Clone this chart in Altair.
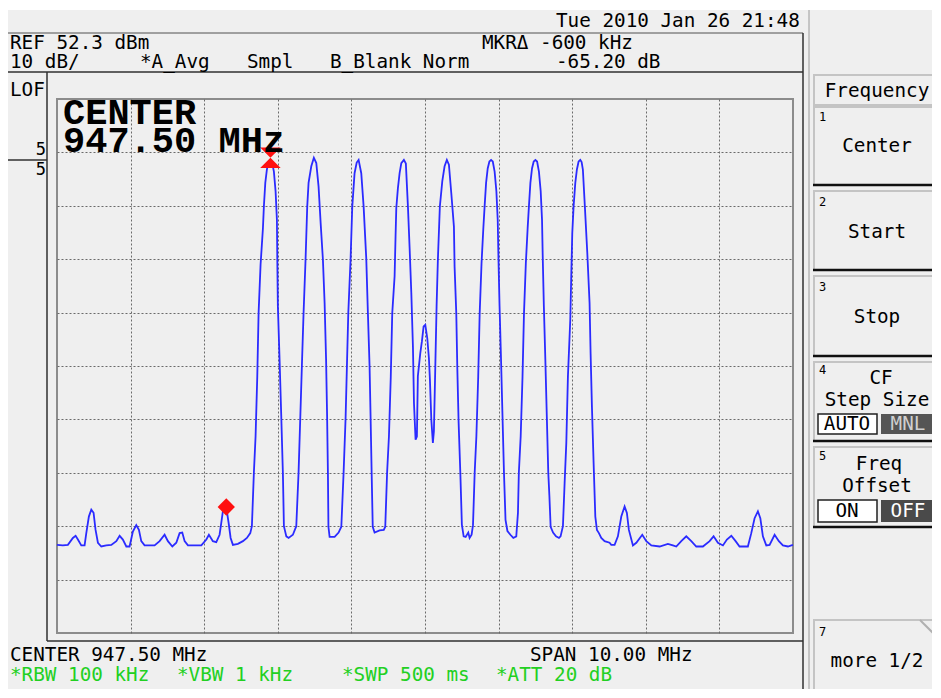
import altair as alt
import pandas as pd

# ---------------- trace data: (frequency MHz, level dBm) ----------------
floor_left = [
    (942.500, -31.2), (942.580, -31.3), (942.648, -31.2), (942.716, -29.9), (942.753, -29.5),
    (942.784, -30.2), (942.830, -31.3), (942.875, -31.3), (942.898, -29.0), (942.933, -25.9),
    (942.966, -24.6), (942.997, -25.2), (943.024, -28.4), (943.056, -30.8), (943.102, -31.5),
    (943.170, -31.3), (943.238, -31.2), (943.306, -30.5), (943.351, -29.5), (943.395, -30.2),
    (943.442, -31.5), (943.486, -31.5), (943.531, -28.7), (943.577, -27.5), (943.613, -28.4),
    (943.645, -30.5), (943.690, -31.3), (943.758, -31.3), (943.826, -31.3), (943.894, -30.5),
    (943.962, -29.3), (944.007, -30.5), (944.067, -31.5), (944.121, -30.8), (944.166, -29.0),
    (944.202, -28.9), (944.234, -30.5), (944.279, -31.3), (944.370, -31.3), (944.461, -31.3),
    (944.529, -30.2), (944.564, -29.3), (944.618, -30.5), (944.664, -30.7), (944.709, -29.3),
    (944.732, -27.1), (944.754, -24.9), (944.787, -24.0), (944.808, -24.9), (944.832, -27.1),
    (944.859, -29.9), (944.890, -31.2), (944.958, -31.0), (945.026, -30.5), (945.080, -29.9),
    (945.126, -29.0),
]
peaks_1_3 = [
    (945.148, -27.7), (945.175, -17.7), (945.198, -10.9), (945.221, 0.3), (945.239, 12.2),
    (945.266, 21.3), (945.298, 28.1), (945.311, 32.2), (945.330, 36.6), (945.352, 39.1),
    (945.375, 40.6), (945.398, 40.9), (945.420, 40.6), (945.447, 38.7), (945.470, 35.0),
    (945.488, 29.7), (945.493, 22.5), (945.501, 13.5), (945.524, 3.5), (945.547, -7.1),
    (945.569, -17.7), (945.583, -27.7),
    (945.616, -29.6), (945.647, -29.9), (945.705, -29.3), (945.751, -27.7),
    (945.782, -17.7), (945.806, -7.1), (945.827, 2.2), (945.850, 12.2), (945.877, 22.2),
    (945.900, 32.2), (945.918, 36.6), (945.955, 39.7), (945.990, 41.3), (946.023, 40.3),
    (946.054, 35.9), (946.082, 29.1), (946.113, 22.2), (946.136, 14.1), (946.156, 3.5),
    (946.170, -7.2), (946.181, -17.7), (946.188, -27.8),
    (946.204, -29.7), (946.272, -29.7), (946.326, -28.9), (946.363, -27.8),
    (946.394, -17.7), (946.421, -7.5), (946.439, 2.2), (946.458, 12.3), (946.489, 22.4),
    (946.512, 32.2), (946.543, 38.4), (946.572, 40.4), (946.598, 40.9), (946.634, 38.4),
    (946.666, 32.2), (946.702, 22.4), (946.724, 12.3), (946.747, 2.2), (946.761, -7.5),
    (946.775, -17.7), (946.790, -27.8),
    (946.815, -28.9), (946.883, -28.5), (946.940, -28.4),
]
peaks_4_5 = [
    (946.960, -27.8), (946.985, -17.7), (947.010, -10.9), (947.035, 0.3), (947.055, 12.2),
    (947.087, 19.1), (947.100, 26.6), (947.110, 31.9), (947.132, 35.6), (947.155, 38.4),
    (947.178, 40.3), (947.213, 40.9), (947.240, 40.2), (947.268, 32.2), (947.291, 24.4),
    (947.314, 16.0), (947.336, 6.0), (947.350, -4.6), (947.372, -11.5), (947.390, -10.9),
    (947.403, 0.4), (947.436, 4.7), (947.458, 6.9), (947.481, 9.7), (947.504, 10.0),
    (947.531, 7.5), (947.553, 3.8), (947.567, -0.3), (947.586, -7.8), (947.607, -12.1),
    (947.621, -9.9), (947.640, 2.2), (947.658, 13.8), (947.675, 22.2), (947.702, 32.2),
    (947.735, 36.9), (947.766, 39.7), (947.797, 40.9), (947.825, 40.0), (947.857, 34.7),
    (947.893, 28.4), (947.902, 20.9), (947.925, 12.2), (947.939, 1.9), (947.957, -8.4),
    (947.980, -17.7), (948.001, -27.4), (948.025, -29.6),
    (948.052, -29.7), (948.088, -28.9), (948.106, -29.9), (948.133, -29.3),
]
peaks_6_8 = [
    (948.152, -27.5), (948.175, -17.7), (948.198, -10.9), (948.223, 0.3), (948.243, 12.2),
    (948.268, 21.5), (948.293, 28.2), (948.310, 32.2), (948.330, 36.6), (948.352, 39.3),
    (948.375, 40.6), (948.398, 40.9), (948.421, 40.6), (948.446, 38.7), (948.470, 35.0),
    (948.488, 29.7), (948.498, 22.5), (948.513, 13.5), (948.533, 3.5), (948.553, -7.1),
    (948.573, -17.7), (948.594, -26.5),
    (948.620, -28.6), (948.660, -29.3), (948.700, -29.9), (948.740, -29.6), (948.763, -25.2),
    (948.775, -17.7), (948.800, -10.9), (948.825, 0.3), (948.845, 12.2), (948.870, 21.5),
    (948.895, 28.2), (948.912, 32.2), (948.932, 36.6), (948.954, 39.3), (948.977, 40.6),
    (949.000, 40.9), (949.023, 40.6), (949.048, 38.7), (949.072, 35.0), (949.090, 29.7),
    (949.100, 22.5), (949.115, 13.5), (949.135, 3.5), (949.155, -7.1), (949.175, -17.7),
    (949.190, -22.0), (949.207, -27.8),
    (949.240, -28.9), (949.280, -29.6), (949.320, -29.9), (949.342, -29.6),
    (949.374, -27.7), (949.397, -19.6), (949.420, -12.1), (949.442, 0.4), (949.474, 11.0),
    (949.488, 19.7), (949.501, 27.2), (949.519, 32.2), (949.542, 36.6), (949.564, 39.1),
    (949.587, 40.6), (949.610, 40.9), (949.628, 40.5), (949.645, 39.1), (949.672, 32.2),
    (949.705, 23.5), (949.736, 14.1), (949.750, 4.7), (949.768, -5.3), (949.791, -15.9),
    (949.814, -25.9), (949.836, -28.4), (949.863, -29.0), (949.895, -29.9), (949.940, -30.5),
    (950.008, -30.8),
]
floor_right = [
    (950.031, -31.2), (950.076, -31.2), (950.121, -29.6), (950.167, -25.9), (950.212, -24.0),
    (950.243, -25.2), (950.270, -28.4), (950.325, -31.3), (950.371, -30.8), (950.452, -29.3),
    (950.507, -30.5), (950.575, -31.3), (950.688, -31.5), (950.800, -31.0), (950.868, -31.3),
    (950.914, -31.5), (950.982, -30.5), (951.050, -29.6), (951.118, -30.5), (951.186, -31.5),
    (951.276, -31.5), (951.367, -30.5), (951.421, -29.6), (951.480, -30.8), (951.548, -31.3),
    (951.602, -30.2), (951.662, -29.5), (951.720, -30.5), (951.774, -31.5), (951.887, -31.5),
    (951.933, -29.0), (951.978, -26.2), (952.023, -24.9), (952.056, -26.2), (952.091, -29.6),
    (952.137, -31.3), (952.182, -31.2), (952.250, -29.3), (952.308, -30.5), (952.363, -31.3),
    (952.431, -31.5), (952.499, -31.2),
]
ref_marker = [(945.40, 41.3)]
delta_marker = [(944.80, -24.1)]

# screen settings
start_mhz, stop_mhz = 942.5, 952.5
ref_dbm, db_per_div = 52.3, 10
x_grid = [943.5, 944.5, 945.5, 946.5, 947.5, 948.5, 949.5, 950.5, 951.5]
y_grid = [42.3, 32.3, 22.3, 12.3, 2.3, -7.7, -17.7, -27.7, -37.7]

trace = pd.DataFrame(floor_left + peaks_1_3 + peaks_4_5 + peaks_6_8 + floor_right,
                     columns=["f", "db"])
trace["i"] = range(len(trace))
mk_ref = pd.DataFrame(ref_marker, columns=["f", "db"])
mk_del = pd.DataFrame(delta_marker, columns=["f", "db"])

xs = alt.Scale(domain=[start_mhz, stop_mhz], nice=False, zero=False)
ys = alt.Scale(domain=[ref_dbm - 10 * db_per_div, ref_dbm], nice=False, zero=False)
gridstyle = dict(grid=True, labels=False, ticks=False, domain=False, title=None,
                 gridColor="#6a6a6a", gridDash=[2, 2], gridWidth=1)

line = alt.Chart(trace).mark_line(color="#2b2bff", strokeWidth=1.8).encode(
    x=alt.X("f:Q", scale=xs, axis=alt.Axis(values=x_grid, **gridstyle)),
    y=alt.Y("db:Q", scale=ys, axis=alt.Axis(values=y_grid, **gridstyle)),
    order="i:Q",
)
m1 = alt.Chart(mk_ref).mark_point(shape="M-1,-1L1,-1L-1,1L1,1Z", filled=True, size=420,
                                  color="#ff1010", opacity=1).encode(
    x=alt.X("f:Q", scale=xs), y=alt.Y("db:Q", scale=ys))
m2 = alt.Chart(mk_del).mark_point(shape="M0,-1L1,0L0,1L-1,0Z", filled=True, size=300,
                                  color="#ff1010", opacity=1).encode(
    x=alt.X("f:Q", scale=xs), y=alt.Y("db:Q", scale=ys))

# ---------------- screen chrome (page pixel positions) ----------------
OX, OY = 57, 99
MONO = "DejaVu Sans Mono"
dummy = pd.DataFrame({"d": [0]})


def txt(s, x, y, size=19.3, color="#000000", font=MONO, align="left", weight="normal",
        baseline="middle"):
    return alt.Chart(dummy).mark_text(
        text=s, align=align, baseline=baseline, fontSize=size, font=font,
        color=color, fontWeight=weight).encode(x=alt.value(x - OX), y=alt.value(y - OY))


def rule(x1, y1, x2, y2, color="#303030", w=1):
    return alt.Chart(dummy).mark_rule(color=color, strokeWidth=w).encode(
        x=alt.value(x1 - OX), y=alt.value(y1 - OY), x2=alt.value(x2 - OX), y2=alt.value(y2 - OY))


def box(x1, y1, x2, y2, fill, stroke="", w=1):
    kw = dict(fill=fill)
    if stroke:
        kw.update(stroke=stroke, strokeWidth=w)
    return alt.Chart(dummy).mark_rect(**kw).encode(
        x=alt.value(x1 - OX), y=alt.value(y1 - OY), x2=alt.value(x2 - OX), y2=alt.value(y2 - OY))


chrome = [
    box(0, 0, 945, 10, "#ffffff"),
    rule(8, 33, 803, 33, "#505050"),
    rule(8, 72, 803, 72, "#303030", 1.5),
    rule(47, 72, 47, 641, "#303030", 1.5),
    rule(47, 641, 803, 641, "#303030", 1.5),
    rule(803, 33, 803, 698, "#303030", 1.5),
    rule(809, 10, 809, 698, "#9a9a9a", 1),
    rule(8, 160, 47, 160, "#303030", 1.5),
]
texts = [
    txt("Tue 2010 Jan 26 21:48", 556, 21),
    txt("REF 52.3 dBm", 10, 43),
    txt("10 dB/", 10, 62),
    txt("*A_Avg", 140, 62),
    txt("Smpl", 247, 62),
    txt("B_Blank Norm", 330, 62),
    txt("MKR\u0394 -600 kHz", 482, 43),
    txt("-65.20 dB", 556, 62),
    txt("LOF", 10, 90),
    txt("5", 46, 150, size=17, align="right"),
    txt("5", 46, 170, size=17, align="right"),
    txt("CENTER", 63, 124, size=37, font="Liberation Mono", weight="bold",
        baseline="alphabetic"),
    txt("947.50 MHz", 63, 152, size=37, font="Liberation Mono", weight="bold",
        baseline="alphabetic"),
    txt("CENTER 947.50 MHz", 10, 655),
    txt("SPAN 10.00 MHz", 530, 655),
    txt("*RBW 100 kHz", 10, 675, color="#22d022"),
    txt("*VBW 1 kHz", 177, 675, color="#22d022"),
    txt("*SWP 500 ms", 342, 675, color="#22d022"),
    txt("*ATT 20 dB", 496, 675, color="#22d022"),
]

# soft keys
KX1, KX2 = 814, 941
KC = 877
keys = [box(KX1, 75, KX2 + 4, 105, "#efefef", "#c4c4c4", 2),
        txt("Frequency", KC, 91, align="center")]
key_boxes = [(107, 185), (191, 270), (276, 356), (362, 441), (447, 527), (620, 700)]
for (t, b) in key_boxes:
    keys.append(box(KX1, t, KX2 + 4, b, "#efefef", "#c4c4c4", 2))
    if b < 698:
        keys.append(rule(KX1 - 1, b, KX2 + 4, b, "#101010", 2.5))
keys += [
    txt("1", 819, 117, size=12), txt("Center", KC, 146, align="center"),
    txt("2", 819, 202, size=12), txt("Start", KC, 232, align="center"),
    txt("3", 819, 287, size=12), txt("Stop", KC, 317, align="center"),
    txt("4", 819, 370, size=12), txt("CF", KC + 4, 378, align="center"),
    txt("Step Size", KC, 400, align="center"),
    box(818, 414, 877, 434, "#ffffff", "#202020", 1.5),
    box(881, 414, 945, 434, "#555555"),
    txt("AUTO", 847, 424, align="center"),
    txt("MNL", 908, 424, align="center", color="#d0d0d0"),
    txt("5", 819, 456, size=12), txt("Freq", KC + 2, 464, align="center"),
    txt("Offset", KC, 486, align="center"),
    box(818, 500, 877, 522, "#ffffff", "#202020", 1.5),
    box(881, 500, 945, 522, "#4a4a4a"),
    txt("ON", 847, 511, align="center"),
    txt("OFF", 908, 511, align="center", color="#ffffff"),
    txt("7", 819, 632, size=12), txt("more 1/2", KC, 661, align="center"),
    rule(920, 620, 935, 635, "#b0b0b0", 2),
]

chart = alt.layer(*chrome, line, m1, m2, *texts, *keys).properties(
    width=736, height=534,
    padding={"left": 49, "top": 91, "right": 139, "bottom": 56},
    autosize=alt.AutoSizeParams(type="none"),
    background="#efefef",
).configure_view(stroke="#8c8c8c", strokeWidth=2)

chart.save("out.html", embed_options={"renderer": "svg", "actions": False})
